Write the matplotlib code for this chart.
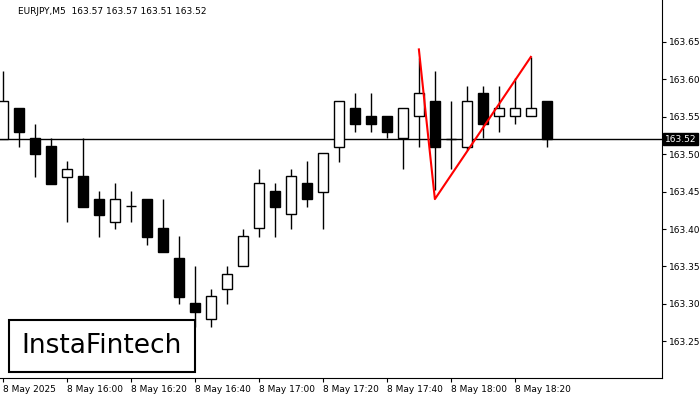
import matplotlib.pyplot as plt
from matplotlib.patches import Rectangle

opens  = [163.520, 163.562, 163.522, 163.511, 163.470, 163.471, 163.440, 163.409, 163.431, 163.440,
          163.401, 163.361, 163.301, 163.280, 163.320, 163.351, 163.401, 163.451, 163.420, 163.461,
          163.449, 163.510, 163.562, 163.551, 163.551, 163.522, 163.551, 163.571, 163.520, 163.510,
          163.582, 163.551, 163.551, 163.551, 163.571]
highs  = [163.611, 163.562, 163.540, 163.522, 163.491, 163.522, 163.451, 163.461, 163.451, 163.440,
          163.440, 163.391, 163.351, 163.320, 163.351, 163.400, 163.480, 163.461, 163.480, 163.491,
          163.502, 163.571, 163.582, 163.582, 163.551, 163.562, 163.629, 163.611, 163.571, 163.591,
          163.591, 163.591, 163.602, 163.630, 163.571]
lows   = [163.520, 163.510, 163.470, 163.460, 163.409, 163.429, 163.389, 163.400, 163.409, 163.379,
          163.369, 163.300, 163.269, 163.269, 163.300, 163.351, 163.389, 163.389, 163.400, 163.429,
          163.400, 163.490, 163.530, 163.530, 163.522, 163.480, 163.510, 163.452, 163.480, 163.506,
          163.522, 163.530, 163.540, 163.551, 163.510]
closes = [163.571, 163.530, 163.500, 163.460, 163.480, 163.429, 163.419, 163.440, 163.431, 163.389,
          163.369, 163.309, 163.289, 163.310, 163.340, 163.391, 163.461, 163.429, 163.471, 163.440,
          163.502, 163.571, 163.540, 163.540, 163.530, 163.562, 163.582, 163.510, 163.520, 163.571,
          163.540, 163.562, 163.562, 163.562, 163.520]

pattern_x = [26, 27, 33]
pattern_y = [163.64, 163.44, 163.63]
last_price = 163.52
price_ticks = [163.25, 163.30, 163.35, 163.40, 163.45, 163.50, 163.55, 163.60, 163.65]
time_ticks = [0, 4, 8, 12, 16, 20, 24, 28, 32]
time_labels = ["8 May 2025", "8 May 16:00", "8 May 16:20", "8 May 16:40", "8 May 17:00",
               "8 May 17:20", "8 May 17:40", "8 May 18:00", "8 May 18:20"]

fig = plt.figure(figsize=(7, 4), dpi=100)
ax = fig.add_axes([0, 22/400, 662/700, 378/400])

w = 0.6
for i, (o, h, l, c) in enumerate(zip(opens, highs, lows, closes)):
    ax.vlines(i, l, h, color='black', lw=1, zorder=2)
    fc = 'white' if c >= o else 'black'
    ax.add_patch(Rectangle((i - w/2, min(o, c)), w, max(abs(c - o), 0.0004),
                           facecolor=fc, edgecolor='black', lw=1, zorder=3))

ax.axhline(last_price, color='black', lw=1, zorder=1)
ax.plot(pattern_x, pattern_y, color='red', lw=1.5, zorder=4)

ax.set_xlim(-0.19, 41.2)
ax.set_ylim(163.201, 163.706)
ax.yaxis.tick_right()
ax.set_yticks(price_ticks)
ax.set_yticklabels([f"{v:.2f}" for v in price_ticks], fontsize=6.5)
ax.set_xticks(time_ticks)
ax.set_xticklabels(time_labels, fontsize=6.5, ha='left')
ax.tick_params(length=3, pad=2)
for s in ['top', 'left']:
    ax.spines[s].set_visible(False)

ax.text(1.004, (last_price - 163.201) / (163.706 - 163.201), f"{last_price:.2f}",
        transform=ax.transAxes, fontsize=6.5, color='white', va='center', ha='left',
        bbox=dict(boxstyle='square,pad=0.15', fc='black', ec='black'))

fig.text(18/700, 1 - 12/400, "EURJPY,M5  163.57 163.57 163.51 163.52", fontsize=6.5, va='center')
fig.text(102/700, 1 - 346/400, "InstaFintech", fontsize=19, ha='center', va='center',
         bbox=dict(boxstyle='square,pad=0.5', fc='white', ec='black', lw=1.5))

fig.savefig("out.png", dpi=100)
